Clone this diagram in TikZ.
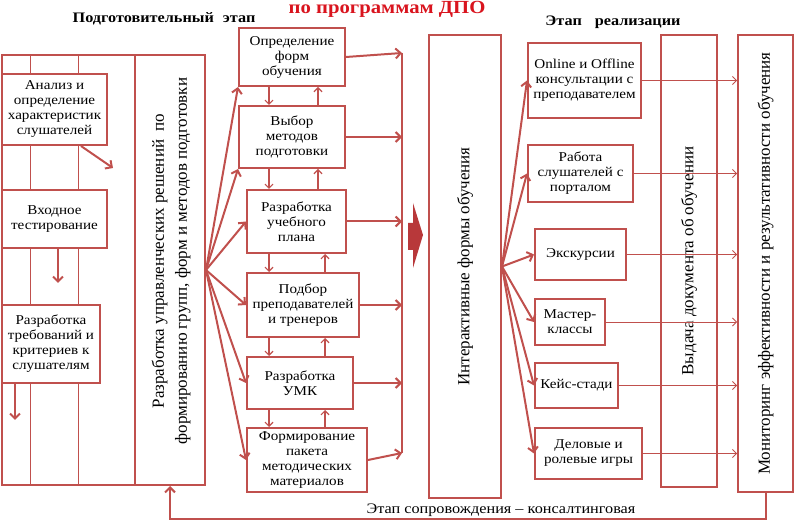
\documentclass[tikz,border=0pt]{standalone}
\usepackage{fontspec}
\setmainfont[FakeStretch=1.12]{Liberation Serif}
\newfontfamily\rovnyj{Liberation Serif}
\usetikzlibrary{arrows.meta,calc}
\definecolor{rama}{HTML}{C0504D}
\definecolor{titulo}{HTML}{D9141E}
\definecolor{bloque}{HTML}{B8383A}
\begin{document}
\begin{tikzpicture}[x=1pt, y=-1pt,
  caja/.style={draw=rama, line width=2pt, fill=white, inner sep=0pt, align=center,
    font=\fontsize{13.5}{15}\selectfont},
  marco/.style={draw=rama, line width=2pt},
  flecha/.style={draw=rama, line width=2pt, -{Straight Barb[length=5pt,width=10pt]}},
  paso/.style={draw=rama, line width=1.2pt, -{Straight Barb[length=4pt,width=8pt]}},
  fina/.style={draw=rama, line width=0.8pt, -{Straight Barb[length=4pt,width=8pt]}},
  linea/.style={draw=rama, line width=0.8pt},
  vert/.style={rotate=90, align=center, font=\rovnyj\fontsize{17}{23}\selectfont},
  cabeza/.style={font=\bfseries\fontsize{14.5}{17}\selectfont}]
\useasboundingbox (0,0) rectangle (796,521);
% Encabezados {{{
\node[font=\bfseries\fontsize{18.5}{20}\selectfont, text=titulo] (titul) at (387,9) {по программам ДПО};
\node[cabeza] (podgh) at (164,19) {Подготовительный\hspace{9pt}этап};
\node[cabeza] (realh) at (613,22) {Этап\hspace{13pt}реализации};
% }}}
% Подготовительный этап {{{
\node[marco, minimum width=133pt, minimum height=430pt] (podg) at (68.5,270) {};
\draw[linea] (30,55) -- (30,485);
\draw[linea] (78,55) -- (78,485);
\node[caja, minimum width=105pt, minimum height=71pt] (anal) at (54.5,109.5) {Анализ и\\определение\\характеристик\\слушателей};
\node[caja, minimum width=105pt, minimum height=58pt] (vhod) at (54.5,219) {Входное\\тестирование};
\node[caja, minimum width=98pt, minimum height=78pt] (treb) at (51,344) {Разработка\\требований и\\критериев к\\слушателям};
\coordinate (analend) at (113,168);
\coordinate (vhodend) at (58,283);
\coordinate (trebend) at (15,420);
\draw[flecha] ([xshift=-27pt]anal.south east) -- (analend);
\draw[flecha] ([xshift=3.5pt]vhod.south) -- (vhodend);
\draw[flecha] ([xshift=-36pt]treb.south) -- (trebend);
\node[caja, minimum width=70pt, minimum height=430pt] (upr) at (170,270) {};
\node[vert] (uprt) at ($(upr)+(1,-9)$) {Разработка управленческих решений\ \ по\\формированию групп, форм и методов подготовки};
% }}}
% Средняя колонка {{{
\node[caja, minimum width=106pt, minimum height=58pt] (opr) at (292,57) {Определение\\форм\\обучения};
\node[caja, minimum width=106pt, minimum height=62pt] (vyb) at (292,137) {Выбор\\методов\\подготовки};
\node[caja, minimum width=99pt, minimum height=63pt] (ucheb) at (296.5,221.5) {Разработка\\учебного\\плана};
\node[caja, minimum width=112pt, minimum height=64pt] (podb) at (303,305) {Подбор\\преподавателей\\и тренеров};
\node[caja, minimum width=106pt, minimum height=52pt] (umk) at (300,383) {Разработка\\УМК};
\node[caja, minimum width=120pt, minimum height=64pt] (paket) at (307,460) {Формирование\\пакета\\методических\\материалов};
\foreach \m/\a in {opr/south west, vyb/south west, ucheb/west, podb/west, umk/west, paket/west}
  \draw[flecha] (upr.east) -- (\m.\a);
\coordinate (dn) at (269,0);
\coordinate (upa) at (318,0);
\coordinate (upb) at (325,0);
\foreach \a/\b/\u in {opr/vyb/upa, vyb/ucheb/upa, ucheb/podb/upb, podb/umk/upb, umk/paket/upb} {
  \draw[paso] (\a.south -| dn) -- (\b.north -| dn);
  \draw[paso] (\b.north -| \u) -- (\a.south -| \u);
}
\coordinate (bustop) at (402,53);
\coordinate (busbot) at (402,453);
\draw[marco] (bustop) -- (busbot);
\draw[flecha] (opr.east) -- (bustop);
\foreach \m in {vyb, ucheb, podb, umk}
  \draw[flecha] (\m.east) -- (\m.east -| bustop);
\draw[flecha] (paket.east) -- (busbot);
\fill[bloque] (408,223) -- (413,223) -- (413,203) -- (423,235) -- (413,268) -- (413,250) -- (408,250) -- cycle;
% }}}
% Этап реализации {{{
\node[caja, minimum width=72pt, minimum height=463pt] (inter) at (465,266.5) {};
\node[vert] (intert) at (inter) {Интерактивные формы обучения};
\node[caja, minimum width=113pt, minimum height=75pt] (onl) at (584.5,80.5) {Online и Offline\\консультации с\\преподавателем};
\node[caja, minimum width=105pt, minimum height=57pt] (port) at (580.5,173.5) {Работа\\слушателей с\\порталом};
\node[caja, minimum width=91pt, minimum height=51pt] (eksk) at (580.5,254.5) {Экскурсии};
\node[caja, minimum width=70pt, minimum height=46pt] (mast) at (570,322) {Мастер-\\классы};
\node[caja, minimum width=83pt, minimum height=45pt] (keis) at (576.5,385.5) {Кейс-стади};
\node[caja, minimum width=107pt, minimum height=51pt] (delo) at (588.5,453.5) {Деловые и\\ролевые игры};
\foreach \r in {onl, port, eksk, mast, keis, delo}
  \draw[flecha] (inter.east) -- (\r.west);
\node[caja, minimum width=56pt, minimum height=452pt] (vyd) at (689,261) {};
\node[vert] (vydt) at (vyd) {Выдача документа об обучении};
\node[caja, minimum width=55pt, minimum height=457pt] (mon) at (765.5,263.5) {};
\node[vert] (mont) at (mon) {Мониторинг эффективности и результативности обучения};
\foreach \r in {onl, port, eksk, mast, keis, delo}
  \draw[fina] (\r.east) -- (\r.east -| mon.west);
% }}}
% Сопровождение {{{
\coordinate (niz) at (0,519);
\draw[flecha] (mon.south) -- (mon.south |- niz) -| (upr.south);
\node[font=\fontsize{14.5}{16}\selectfont] (soprov) at (501,510) {Этап сопровождения – консалтинговая};
% }}}
\end{tikzpicture}
\end{document}
